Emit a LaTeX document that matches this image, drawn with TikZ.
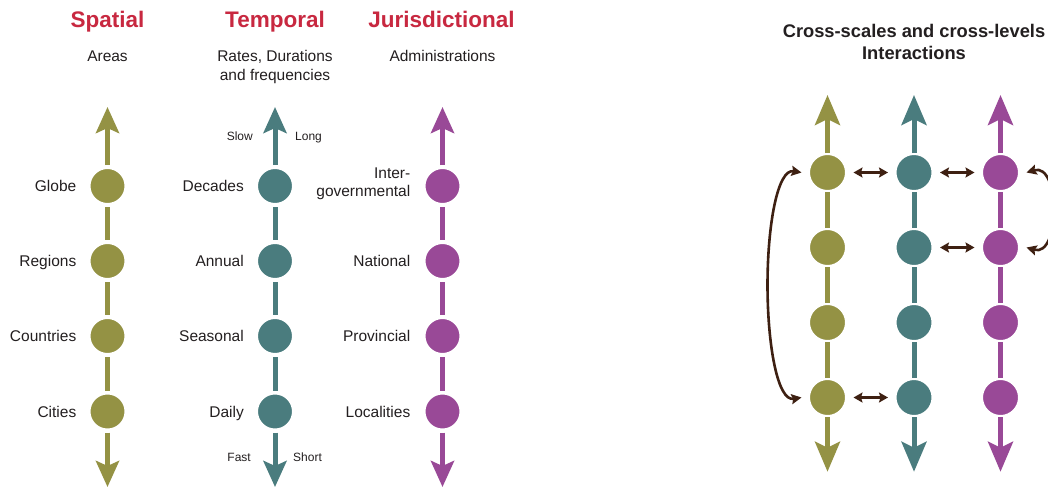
\documentclass[tikz,border=0pt]{standalone}
\usepackage{fontspec}
\setmainfont{Liberation Sans}
\usetikzlibrary{arrows.meta,calc}
\definecolor{colOlive}{RGB}{148,146,68}
\definecolor{colTeal}{RGB}{74,124,126}
\definecolor{colPurple}{RGB}{153,73,151}
\definecolor{colRed}{RGB}{200,40,64}
\definecolor{colBrown}{RGB}{62,32,18}
\definecolor{colText}{RGB}{35,31,32}
\tikzset{
  ttl/.style={font=\fontsize{22.5}{27}\selectfont\bfseries, text=colRed, anchor=base, inner sep=0pt},
  subttl/.style={font=\fontsize{15.5}{18.4}\selectfont, text=colText, align=center, anchor=base, inner sep=0pt},
  lbl/.style={font=\fontsize{15.5}{18.4}\selectfont, text=colText, anchor=base east, inner sep=0pt, align=right},
  smalllbl/.style={font=\fontsize{12}{14}\selectfont, text=colText, anchor=base, inner sep=0pt},
  rtitle/.style={font=\fontsize{18.3}{21.6}\selectfont\bfseries, text=colText, align=center, anchor=base, inner sep=0pt},
  dotL/.style={circle, minimum size=38pt, line width=4pt, draw=white, fill=#1, inner sep=0pt, outer sep=2pt},
  dotR/.style={circle, minimum size=37pt, line width=2pt, draw=white, fill=#1, inner sep=0pt, outer sep=1pt},
  axisL/.style={draw=#1, line width=5pt, -{Stealth[length=26pt,width=23pt,inset=5pt]}},
  segL/.style={draw=#1, line width=5pt},
  axisR/.style={draw=#1, line width=5pt, -{Stealth[length=30pt,width=25pt,inset=6pt]}},
  segR/.style={draw=#1, line width=5pt},
  hz/.style={draw=colBrown, line width=3pt, {Stealth[length=9pt,width=10pt,inset=1.5pt]}-{Stealth[length=9pt,width=10pt,inset=1.5pt]}, shorten <=6.5pt, shorten >=6.5pt},
  curv/.style={draw=colBrown, line width=2.6pt, {Stealth[length=10pt,width=10pt,inset=1.5pt]}-{Stealth[length=10pt,width=10pt,inset=1.5pt]}}
}
\begin{document}
\begin{tikzpicture}[x=1pt,y=-1pt]
\useasboundingbox (0,0) rectangle (1048,490);
\fill[white] (0,0) rectangle (1048,490);
\clip (0,0) rectangle (1048,490);

% ---------- Titles ----------
\node[ttl] (tS) at (107.5,27.5) {Spatial};
\node[ttl] (tT) at (275,27.5) {Temporal};
\node[ttl] (tJ) at (441.5,27.5) {Jurisdictional};
\node[subttl] (uS) at (107.5,61.7) {Areas};
\node[subttl] (uT) at (275,80.1) {Rates, Durations\\and frequencies};
\node[subttl] (uJ) at (442.5,61.7) {Administrations};

% ---------- Left panel: Spatial ----------
\coordinate (sTop) at (107.5,107);
\coordinate (sBot) at (107.5,487);
\node[dotL=colOlive] (s1) at (107.5,186) {};
\node[dotL=colOlive] (s2) at (107.5,261) {};
\node[dotL=colOlive] (s3) at (107.5,336) {};
\node[dotL=colOlive] (s4) at (107.5,411.5) {};
\draw[axisL=colOlive] (s1) -- (sTop);
\draw[segL=colOlive] (s1) -- (s2);
\draw[segL=colOlive] (s2) -- (s3);
\draw[segL=colOlive] (s3) -- (s4);
\draw[axisL=colOlive] (s4) -- (sBot);
\node[lbl] (ls1) at ($(s1)+(-31,5.5)$) {Globe};
\node[lbl] (ls2) at ($(s2)+(-31,5.5)$) {Regions};
\node[lbl] (ls3) at ($(s3)+(-31,5.5)$) {Countries};
\node[lbl] (ls4) at ($(s4)+(-31,5.5)$) {Cities};

% ---------- Left panel: Temporal ----------
\coordinate (tTop) at (275,107);
\coordinate (tBot) at (275,487);
\node[dotL=colTeal] (t1) at (275,186) {};
\node[dotL=colTeal] (t2) at (275,261) {};
\node[dotL=colTeal] (t3) at (275,336) {};
\node[dotL=colTeal] (t4) at (275,411.5) {};
\draw[axisL=colTeal] (t1) -- (tTop);
\draw[segL=colTeal] (t1) -- (t2);
\draw[segL=colTeal] (t2) -- (t3);
\draw[segL=colTeal] (t3) -- (t4);
\draw[axisL=colTeal] (t4) -- (tBot);
\node[lbl] (lt1) at ($(t1)+(-31,5.5)$) {Decades};
\node[lbl] (lt2) at ($(t2)+(-31,5.5)$) {Annual};
\node[lbl] (lt3) at ($(t3)+(-31,5.5)$) {Seasonal};
\node[lbl] (lt4) at ($(t4)+(-31,5.5)$) {Daily};
\node[smalllbl, anchor=base east] (slow) at (253,140) {Slow};
\node[smalllbl, anchor=base west] (long) at (295,140) {Long};
\node[smalllbl, anchor=base east] (fast) at (251,461.5) {Fast};
\node[smalllbl, anchor=base west] (short) at (293,461.5) {Short};

% ---------- Left panel: Jurisdictional ----------
\coordinate (jTop) at (442.5,107);
\coordinate (jBot) at (442.5,487);
\node[dotL=colPurple] (j1) at (442.5,186) {};
\node[dotL=colPurple] (j2) at (442.5,261) {};
\node[dotL=colPurple] (j3) at (442.5,336) {};
\node[dotL=colPurple] (j4) at (442.5,411.5) {};
\draw[axisL=colPurple] (j1) -- (jTop);
\draw[segL=colPurple] (j1) -- (j2);
\draw[segL=colPurple] (j2) -- (j3);
\draw[segL=colPurple] (j3) -- (j4);
\draw[axisL=colPurple] (j4) -- (jBot);
\node[lbl] (lj1) at ($(j1)+(-32,10.7)$) {Inter-\\governmental};
\node[lbl] (lj2) at ($(j2)+(-32,5.5)$) {National};
\node[lbl] (lj3) at ($(j3)+(-32,5.5)$) {Provincial};
\node[lbl] (lj4) at ($(j4)+(-32,5.5)$) {Localities};

% ---------- Right panel ----------
\node[rtitle] (rt) at (914,59.3) {Cross-scales and cross-levels\\Interactions};

\foreach \n/\x/\c in {a/827.5/colOlive, b/914/colTeal, c/1000.5/colPurple}{
  \coordinate (\n Top) at (\x,95);
  \coordinate (\n Bot) at (\x,471.7);
  \node[dotR=\c] (\n1) at (\x,172.5) {};
  \node[dotR=\c] (\n2) at (\x,247.5) {};
  \node[dotR=\c] (\n3) at (\x,322.5) {};
  \node[dotR=\c] (\n4) at (\x,397.5) {};
  \draw[axisR=\c] (\n1) -- (\n Top);
  \draw[segR=\c] (\n1) -- (\n2);
  \draw[segR=\c] (\n2) -- (\n3);
  \draw[segR=\c] (\n3) -- (\n4);
  \draw[axisR=\c] (\n4) -- (\n Bot);
}
\draw[hz] (a1) -- (b1);
\draw[hz] (b1) -- (c1);
\draw[hz] (b2) -- (c2);
\draw[hz] (a4) -- (b4);
\coordinate (lA) at ($(a1.west)+(-6.5,0)$);
\coordinate (lB) at ($(a4.west)+(-6.5,0)$);
\coordinate (lmid) at ($(lA)!0.5!(lB)+(-34,0)$);
\draw[curv] (lA) .. controls +(-24,-4) and +(0,-60) .. (lmid) .. controls +(0,60) and +(-24,4) .. (lB);
\coordinate (rA) at ($(c1.east)+(6.5,0)$);
\coordinate (rB) at ($(c2.east)+(6.5,0)$);
\draw[curv] (rA) .. controls +(34,-10) and +(34,10) .. (rB);
\end{tikzpicture}
\end{document}
